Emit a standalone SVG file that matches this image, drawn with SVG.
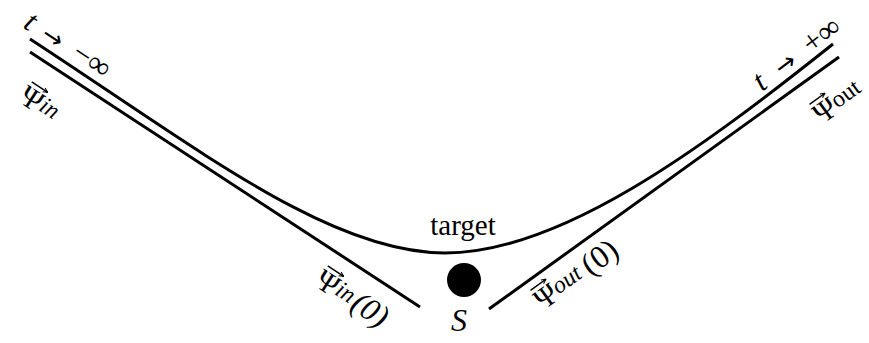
<svg xmlns="http://www.w3.org/2000/svg" width="869" height="343" viewBox="0 0 869 343">
<style>
.ln{fill:none;stroke:#000;stroke-width:3;stroke-linecap:butt}
.lbl{font-family:"Liberation Serif","DejaVu Serif",serif;fill:#000}
.it{font-style:italic}
.ar{font-family:"DejaVu Sans",sans-serif}
.vec{fill:none;stroke:#000;stroke-width:1.5}
</style>
<defs>
<marker id="ah" viewBox="0 0 8 8" refX="7" refY="4" markerWidth="6" markerHeight="6" orient="auto" markerUnits="userSpaceOnUse">
<path d="M1,1 L7,4 L1,7" fill="none" stroke="#000" stroke-width="1.4"/>
</marker>
</defs>
<rect width="869" height="343" fill="#fff"/>
<g id="connectors">
<path id="trajectory" class="ln" d="M30,39 C200,150 330,253 445,253 C560,253 700,150 833,44"/>
<line id="asym-in" class="ln" x1="30" y1="52" x2="420" y2="307"/>
<line id="asym-out" class="ln" x1="489" y1="309" x2="839" y2="57"/>
</g>
<g id="target">
<circle cx="464" cy="280" r="17" fill="#000"/>
<text class="lbl" x="463" y="235" font-size="29" text-anchor="middle">target</text>
<text class="lbl it" x="459" y="331" font-size="32" text-anchor="middle">S</text>
</g>
<g id="label-t-minus" transform="translate(22,27) rotate(33)">
<text class="lbl" font-size="31"><tspan class="it">t</tspan><tspan class="ar" x="21" font-size="25">→</tspan><tspan x="57">−∞</tspan></text>
</g>
<g id="label-t-plus" transform="translate(762,92) rotate(-37)">
<text class="lbl" font-size="31"><tspan class="it">t</tspan><tspan class="ar" x="25" font-size="25">→</tspan><tspan x="62">+∞</tspan></text>
</g>
<g id="label-psi-in" transform="translate(17,101) rotate(33)">
<path class="vec" d="M2,-24 L21,-24" marker-end="url(#ah)"/>
<text class="lbl" font-size="30">Ψ<tspan class="it" font-size="24" dy="-4">in</tspan></text>
</g>
<g id="label-psi-out" transform="translate(822,125) rotate(-36)">
<path class="vec" d="M2,-24 L21,-24" marker-end="url(#ah)"/>
<text class="lbl" font-size="30">Ψ<tspan font-size="24" dy="-4">out</tspan></text>
</g>
<g id="label-psi-in0" transform="translate(313,285) rotate(33)">
<path class="vec" d="M2,-24 L21,-24" marker-end="url(#ah)"/>
<text class="lbl" font-size="30">Ψ<tspan class="it" font-size="24" dy="-4">in</tspan><tspan class="it" font-size="32" dx="2" dy="4">(0)</tspan></text>
</g>
<g id="label-psi-out0" transform="translate(543,311) rotate(-36)">
<path class="vec" d="M2,-24 L21,-24" marker-end="url(#ah)"/>
<text class="lbl" font-size="30">Ψ<tspan class="it" font-size="24" dy="-4">out</tspan><tspan font-size="32" dx="6" dy="4">(0)</tspan></text>
</g>
</svg>
